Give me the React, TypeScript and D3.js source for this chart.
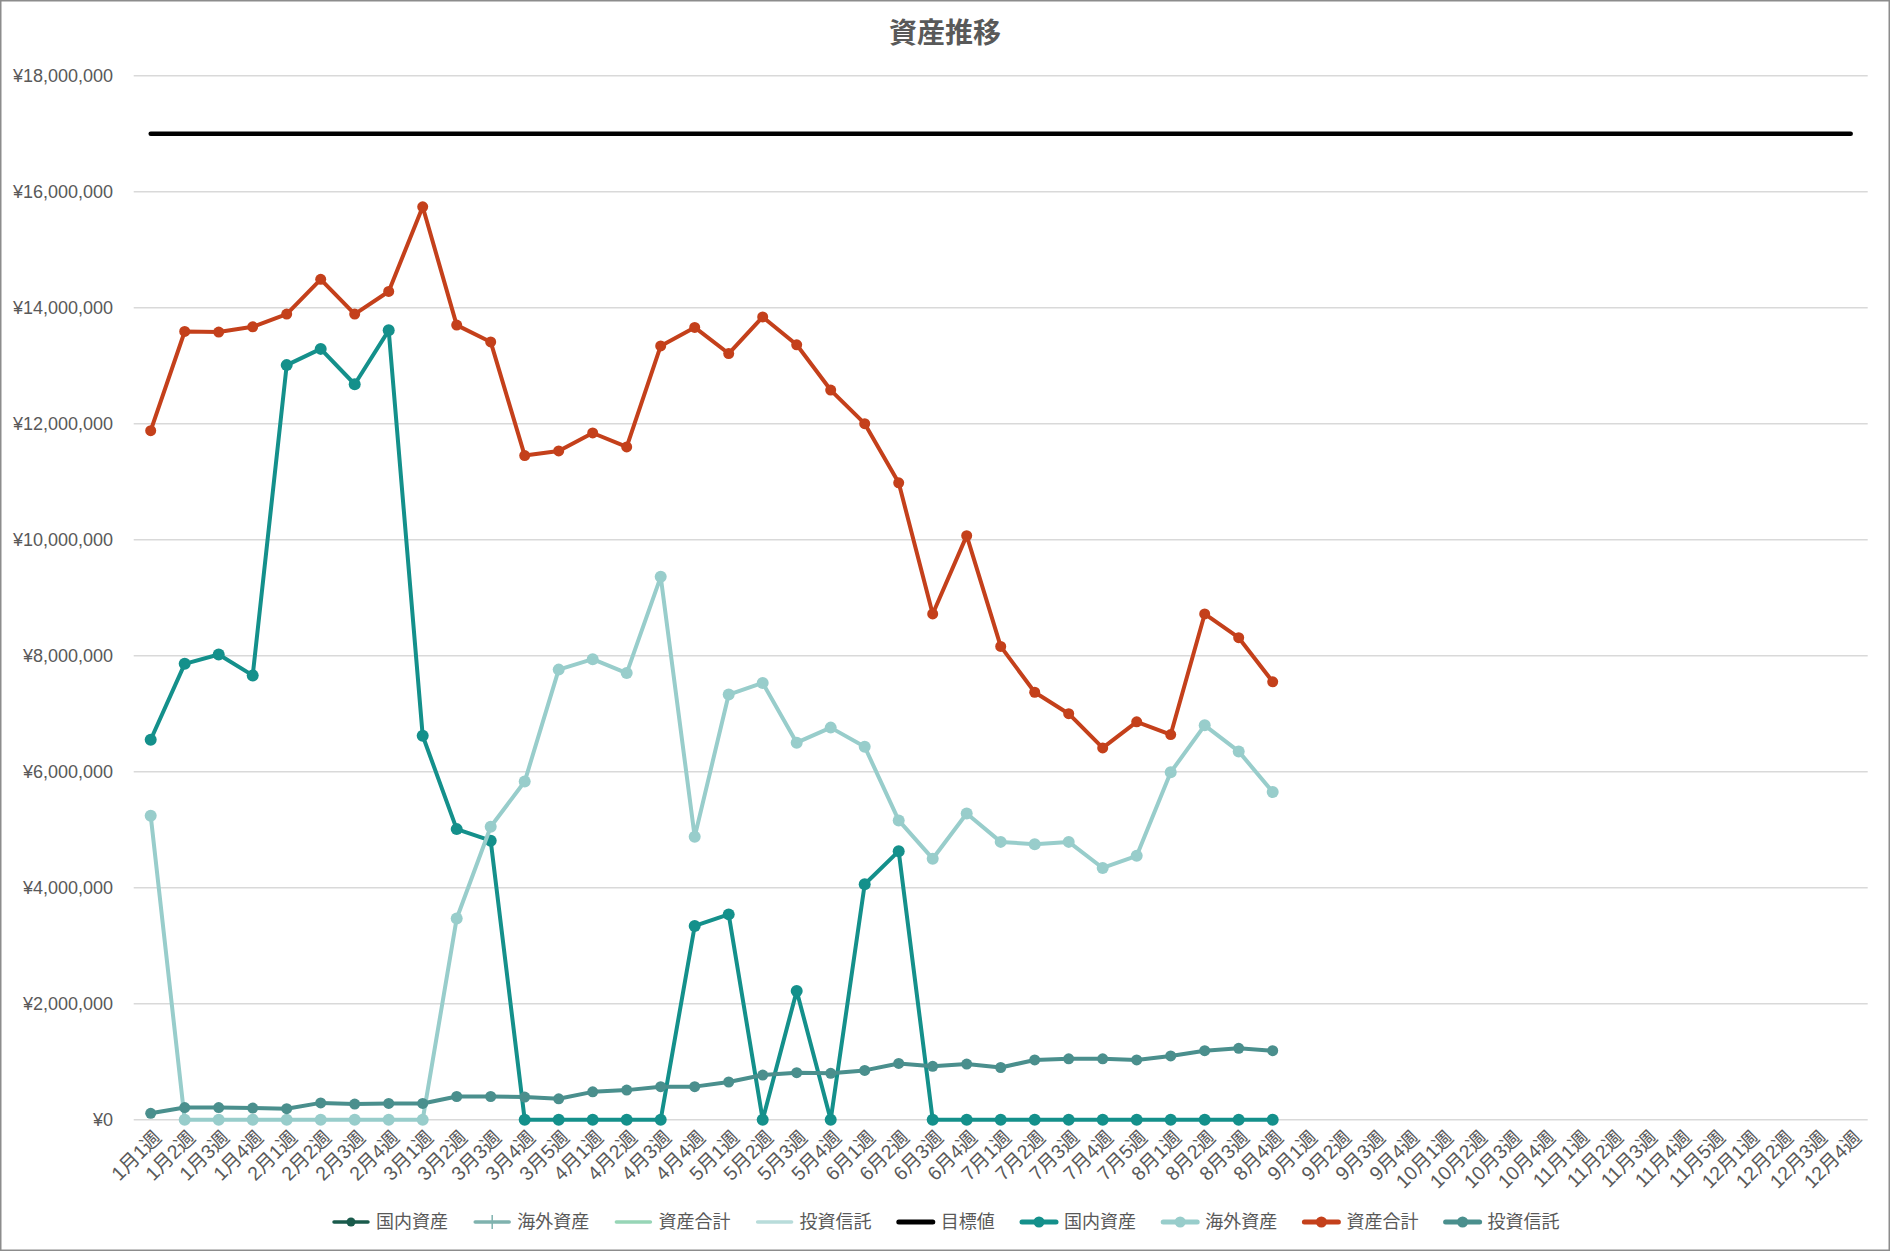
import React from 'react';
import * as d3 from 'd3';

// 週ラベル (1月1週 … 12月4週)
const categories: string[] = [
  '1月1週', '1月2週', '1月3週', '1月4週',
  '2月1週', '2月2週', '2月3週', '2月4週',
  '3月1週', '3月2週', '3月3週', '3月4週', '3月5週',
  '4月1週', '4月2週', '4月3週', '4月4週',
  '5月1週', '5月2週', '5月3週', '5月4週',
  '6月1週', '6月2週', '6月3週', '6月4週',
  '7月1週', '7月2週', '7月3週', '7月4週', '7月5週',
  '8月1週', '8月2週', '8月3週', '8月4週',
  '9月1週', '9月2週', '9月3週', '9月4週',
  '10月1週', '10月2週', '10月3週', '10月4週',
  '11月1週', '11月2週', '11月3週', '11月4週', '11月5週',
  '12月1週', '12月2週', '12月3週', '12月4週',
];

// values in yen (only the first 34 weeks have data)
const kokunai: number[] = [
  6550000, 7860000, 8020000, 7660000, 13010000, 13290000, 12680000, 13610000,
  6620000, 5010000, 4810000, 0, 0, 0, 0, 0, 3340000, 3540000, 0, 2220000, 0,
  4060000, 4630000, 0, 0, 0, 0, 0, 0, 0, 0, 0, 0, 0,
];
const kaigai: number[] = [
  5240000, 0, 0, 0, 0, 0, 0, 0, 0, 3470000, 5050000, 5830000, 7760000, 7940000,
  7700000, 9360000, 4880000, 7330000, 7530000, 6500000, 6760000, 6430000,
  5160000, 4500000, 5280000, 4790000, 4750000, 4790000, 4340000, 4550000,
  5990000, 6800000, 6350000, 5650000,
];
const goukei: number[] = [
  11880000, 13590000, 13580000, 13670000, 13890000, 14490000, 13890000,
  14280000, 15740000, 13700000, 13410000, 11450000, 11530000, 11840000,
  11600000, 13340000, 13660000, 13210000, 13840000, 13360000, 12580000,
  12000000, 10980000, 8720000, 10070000, 8160000, 7370000, 7000000, 6410000,
  6860000, 6640000, 8720000, 8310000, 7550000,
];
const toushin: number[] = [
  110000, 210000, 210000, 200000, 190000, 290000, 270000, 280000, 280000,
  400000, 400000, 390000, 360000, 480000, 510000, 570000, 570000, 650000,
  770000, 810000, 800000, 850000, 970000, 920000, 960000, 900000, 1030000,
  1050000, 1050000, 1030000, 1100000, 1190000, 1230000, 1190000,
];
const target: number[] = categories.map(() => 17000000);

const yTicks: number[] = [0, 2000000, 4000000, 6000000, 8000000, 10000000, 12000000, 14000000, 16000000, 18000000];

interface Series {
  name: string;
  values: number[];
  color: string;
  width: number;
  radius: number;
}

// drawn in this order (later on top)
const series: Series[] = [
  { name: '目標値', values: target, color: '#000000', width: 4.5, radius: 0 },
  { name: '国内資産', values: kokunai, color: '#14908b', width: 4, radius: 6 },
  { name: '海外資産', values: kaigai, color: '#98cdcb', width: 4, radius: 6 },
  { name: '資産合計', values: goukei, color: '#c4401b', width: 4, radius: 5.5 },
  { name: '投資信託', values: toushin, color: '#4a8f8d', width: 4, radius: 5.5 },
];

// legend-only entries (series without data)
const emptySeries = [
  { name: '国内資産', color: '#1a5b4c', marker: 'dot' },
  { name: '海外資産', color: '#7fb2ae', marker: 'plus' },
  { name: '資産合計', color: '#97d5b6', marker: 'none' },
  { name: '投資信託', color: '#b8dcda', marker: 'none' },
];

const W = 1890;
const H = 1252;
const FONT = '"Liberation Sans", Arial, "Noto Sans CJK JP", sans-serif';
const TEXT = '#595959';

export default function App() {
  const x = d3.scaleBand<string>().domain(categories).range([133.7, 1867.7]).padding(0);
  const y = d3.scaleLinear().domain([0, 18000000]).range([1119.7, 75.7]);
  const cx = (i: number) => (x(categories[i]) as number) + x.bandwidth() / 2;
  const fmt = (v: number) => '¥' + d3.format(',')(v);

  const line = d3.line<number>().x((_, i) => cx(i)).y(d => y(d));

  // legend layout
  const legendItems = [
    ...emptySeries.map(s => ({ name: s.name, color: s.color, marker: s.marker, lw: 3.5 })),
    ...series.map(s => ({ name: s.name, color: s.color, marker: s.radius ? 'dot' : 'none', lw: 5 })),
  ];
  let lx = 334;
  const legendPos = legendItems.map(it => {
    const p = lx;
    lx += 34 + 8 + it.name.length * 18 + 27.2;
    return p;
  });
  const ly = 1222;

  return (
    <>
      <style>{'body{margin:0}'}</style>
      <svg width={W} height={H} style={{ display: 'block', fontFamily: FONT }}>
        <rect x={0.75} y={0.75} width={W - 1.5} height={1249.5} fill="#fff" stroke="#8c8c8c" strokeWidth={1.5} />

        <text x={945} y={43} textAnchor="middle" fontSize={28} fontWeight="bold" fill={TEXT}>
          資産推移
        </text>

        {/* gridlines + y labels */}
        {yTicks.map(t => (
          <g key={t}>
            <line x1={133.7} x2={1867.7} y1={y(t)} y2={y(t)} stroke="#d9d9d9" strokeWidth={1.5} />
            <text x={113} y={y(t)} dy="0.35em" textAnchor="end" fontSize={18} fill={TEXT}>
              {fmt(t)}
            </text>
          </g>
        ))}

        {/* x labels */}
        {categories.map((c, i) => (
          <text
            key={c}
            transform={`translate(${cx(i) + 7},${1134}) rotate(-45)`}
            dy="0.35em"
            textAnchor="end"
            fontSize={19.5}
            fill={TEXT}
          >
            {c}
          </text>
        ))}

        {/* series */}
        {series.map(s => (
          <g key={s.name}>
            <path d={line(s.values) as string} fill="none" stroke={s.color} strokeWidth={s.width} strokeLinejoin="round" strokeLinecap="round" />
            {s.radius > 0 &&
              s.values.map((v, i) => (
                <circle key={i} cx={cx(i)} cy={y(v)} r={s.radius} fill={s.color} />
              ))}
          </g>
        ))}

        {/* legend */}
        {legendItems.map((it, i) => {
          const px = legendPos[i];
          return (
            <g key={i}>
              <line x1={px} x2={px + 34} y1={ly} y2={ly} stroke={it.color} strokeWidth={it.lw} strokeLinecap="round" />
              {it.marker === 'dot' && <circle cx={px + 17} cy={ly} r={it.lw > 4 ? 5.5 : 4.5} fill={it.color} />}
              {it.marker === 'plus' && (
                <line x1={px + 17} x2={px + 17} y1={ly - 7} y2={ly + 7} stroke={it.color} strokeWidth={1.5} />
              )}
              <text x={px + 42} y={ly} dy="0.36em" fontSize={18} fill={TEXT}>
                {it.name}
              </text>
            </g>
          );
        })}
      </svg>
    </>
  );
}
